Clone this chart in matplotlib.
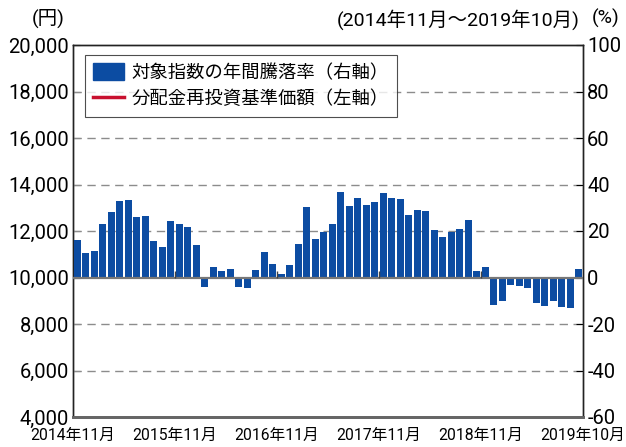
import matplotlib.pyplot as plt
import numpy as np
from matplotlib.patches import Patch
from matplotlib.lines import Line2D

plt.rcParams['font.family'] = ['Roboto', 'Noto Sans CJK JP', 'DejaVu Sans']

# annual change of the index (%), 2014/11 - 2019/10
rates = [16.1, 10.6, 11.6, 23.0, 28.1, 32.9, 33.3, 26.0, 26.4, 15.7, 13.1, 24.3,
         23.0, 21.7, 14.0, -3.9, 4.6, 2.9, 3.7, -3.9, -4.7, 3.3, 11.0, 5.9,
         1.6, 5.4, 14.4, 30.3, 16.6, 19.6, 23.0, 36.7, 30.7, 34.1, 31.1, 32.4,
         36.3, 34.1, 33.7, 26.9, 29.0, 28.6, 20.4, 17.4, 19.6, 20.9, 24.7, 2.9,
         4.6, -11.7, -10.0, -3.1, -3.6, -4.4, -10.9, -12.1, -10.0, -12.6, -13.0, 3.7]
xlabels = ['2014年11月', '2015年11月', '2016年11月', '2017年11月', '2018年11月', '2019年10月']
xlabel_pos = [-0.5, 11.5, 23.5, 35.5, 47.5, 59.5]
left_ticks = [4000, 6000, 8000, 10000, 12000, 14000, 16000, 18000, 20000]
right_ticks = [-60, -40, -20, 0, 20, 40, 60, 80, 100]

blue = '#0c4ca2'
red = '#c8102e'

fig = plt.figure(figsize=(6.26, 4.47), dpi=100)
ax = fig.add_axes([73/626, 30/447, 510/626, 372/447])
ax2 = ax.twinx()

x = np.arange(len(rates))
ax2.bar(x, rates, width=0.82, color=blue, zorder=3)

for v in right_ticks[1:-1]:
    if v == 0:
        ax2.axhline(v, color='#777777', lw=1.6, zorder=4)
    else:
        ax2.axhline(v, color='#8c8c8c', lw=1.0, ls=(0, (6, 4)), zorder=1)
ax2.vlines(xlabel_pos[1:-1], 0, 3, color='#444444', lw=1.0, zorder=5)

ax.set_xlim(-0.5, 59.5)
ax.set_ylim(4000, 20000)
ax2.set_ylim(-60, 100)
ax.set_yticks(left_ticks)
ax.set_yticklabels([f'{v:,}' for v in left_ticks])
ax2.set_yticks(right_ticks)
ax2.set_yticklabels([str(v) for v in right_ticks])
ax.set_xticks(xlabel_pos)
ax.set_xticklabels(xlabels, fontsize=11.3)
ax.tick_params(axis='x', length=0, pad=8)
ax.tick_params(axis='y', direction='in', length=5, labelsize=14.5, pad=3)
ax2.tick_params(axis='y', direction='in', length=5, labelsize=14.5, pad=3)

for a in (ax, ax2):
    for s in ['left', 'right', 'top']:
        a.spines[s].set_color('#222222')
        a.spines[s].set_linewidth(1.0)
    a.spines['bottom'].set_color('#666666')
    a.spines['bottom'].set_linewidth(2.0)

handles = [Patch(facecolor=blue, edgecolor=blue),
           Line2D([0], [0], color=red, lw=2.5)]
leg = ax2.legend(handles, ['対象指数の年間騰落率（右軸）', '分配金再投資基準価額（左軸）'],
                 loc='upper left', bbox_to_anchor=(0.0235, 0.973), borderaxespad=0,
                 fontsize=13.2, frameon=True, fancybox=False, edgecolor='#222222',
                 handlelength=1.7, handleheight=1.0, handletextpad=0.4,
                 borderpad=0.45, labelspacing=0.45)
leg.get_frame().set_linewidth(0.8)
leg.set_zorder(10)

fig.text(48/626, 1 - 18/447, '(円)', fontsize=14, ha='center', va='center')
fig.text(580/626, 1 - 20/447, '(2014年11月～2019年10月)', fontsize=14, ha='right', va='center')
fig.text(606/626, 1 - 18/447, '(%)', fontsize=14, ha='center', va='center')

fig.savefig('out.png', dpi=100)
